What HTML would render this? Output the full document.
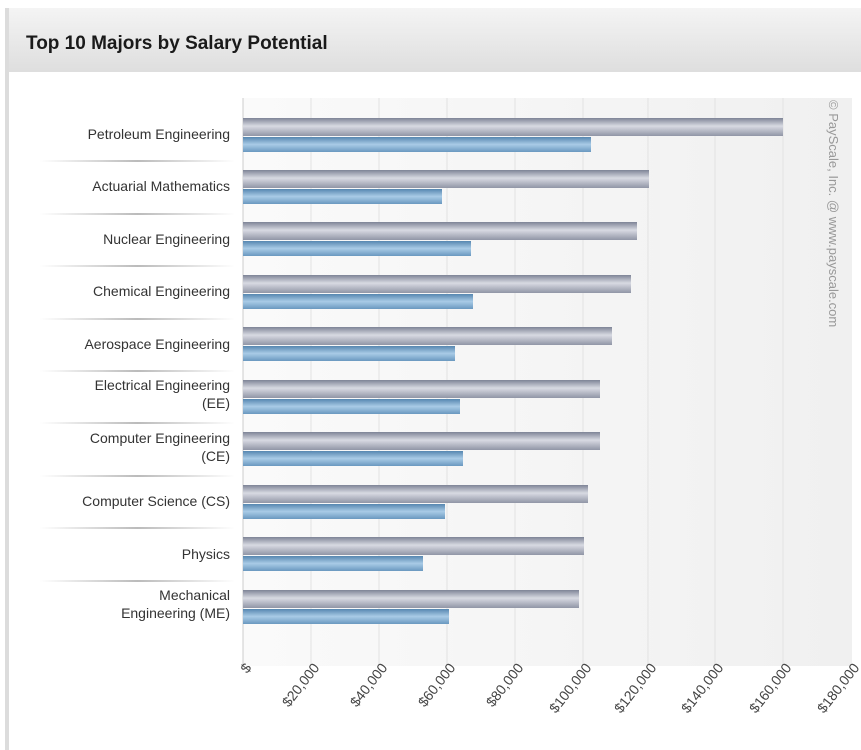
<!DOCTYPE html>
<html><head><meta charset="utf-8"><style>
html,body{margin:0;padding:0;background:#fff;width:861px;height:750px;overflow:hidden}
</style></head><body>
<svg width="861" height="750" xmlns="http://www.w3.org/2000/svg" font-family="Liberation Sans, sans-serif">
<defs>
<linearGradient id="hdr" x1="0" y1="0" x2="0" y2="1"><stop offset="0" stop-color="#f4f4f4"/><stop offset="1" stop-color="#dedede"/></linearGradient>
<linearGradient id="gb" x1="0" y1="0" x2="0" y2="1"><stop offset="0" stop-color="#7e8496"/><stop offset="0.45" stop-color="#d8dae2"/><stop offset="1" stop-color="#9095a6"/></linearGradient>
<linearGradient id="bb" x1="0" y1="0" x2="0" y2="1"><stop offset="0" stop-color="#5686b0"/><stop offset="0.5" stop-color="#a9cbe6"/><stop offset="1" stop-color="#6a98c0"/></linearGradient>
<linearGradient id="sep" x1="0" y1="0" x2="1" y2="0"><stop offset="0" stop-color="#fff"/><stop offset="0.5" stop-color="#bbb"/><stop offset="1" stop-color="#fff"/></linearGradient>
<linearGradient id="plot" x1="0" y1="0" x2="1" y2="0"><stop offset="0" stop-color="#fafafa"/><stop offset="1" stop-color="#f0f0f0"/></linearGradient>
</defs>
<rect x="5" y="8" width="856" height="64" fill="url(#hdr)"/>
<rect x="5" y="8" width="4" height="742" fill="#dcdcdc"/>
<text x="26" y="49" font-size="19" font-weight="bold" fill="#1a1a1a">Top 10 Majors by Salary Potential</text>
<rect x="243" y="98" width="609" height="568" fill="url(#plot)"/>
<g stroke="#e2e2e2" stroke-width="1">
<line x1="311" y1="98" x2="311" y2="666"/><line x1="379" y1="98" x2="379" y2="666"/><line x1="447" y1="98" x2="447" y2="666"/><line x1="515" y1="98" x2="515" y2="666"/><line x1="583" y1="98" x2="583" y2="666"/><line x1="648" y1="98" x2="648" y2="666"/><line x1="715" y1="98" x2="715" y2="666"/><line x1="783" y1="98" x2="783" y2="666"/>
</g>
<line x1="243" y1="98" x2="243" y2="666" stroke="#ccc"/>
<g>
<rect x="243" y="118" width="540" height="18" fill="url(#gb)"/><rect x="243" y="137" width="348" height="15" fill="url(#bb)"/>
<rect x="243" y="170" width="406" height="18" fill="url(#gb)"/><rect x="243" y="189" width="199" height="15" fill="url(#bb)"/>
<rect x="243" y="222" width="394" height="18" fill="url(#gb)"/><rect x="243" y="241" width="228" height="15" fill="url(#bb)"/>
<rect x="243" y="275" width="388" height="18" fill="url(#gb)"/><rect x="243" y="294" width="230" height="15" fill="url(#bb)"/>
<rect x="243" y="327" width="369" height="18" fill="url(#gb)"/><rect x="243" y="346" width="212" height="15" fill="url(#bb)"/>
<rect x="243" y="380" width="357" height="18" fill="url(#gb)"/><rect x="243" y="399" width="217" height="15" fill="url(#bb)"/>
<rect x="243" y="432" width="357" height="18" fill="url(#gb)"/><rect x="243" y="451" width="220" height="15" fill="url(#bb)"/>
<rect x="243" y="485" width="345" height="18" fill="url(#gb)"/><rect x="243" y="504" width="202" height="15" fill="url(#bb)"/>
<rect x="243" y="537" width="341" height="18" fill="url(#gb)"/><rect x="243" y="556" width="180" height="15" fill="url(#bb)"/>
<rect x="243" y="590" width="336" height="18" fill="url(#gb)"/><rect x="243" y="609" width="206" height="15" fill="url(#bb)"/>
</g>
<g fill="url(#sep)">
<rect x="40" y="160" width="195" height="2"/><rect x="40" y="213" width="195" height="2"/><rect x="40" y="265" width="195" height="2"/><rect x="40" y="318" width="195" height="2"/><rect x="40" y="370" width="195" height="2"/><rect x="40" y="422" width="195" height="2"/><rect x="40" y="475" width="195" height="2"/><rect x="40" y="527" width="195" height="2"/><rect x="40" y="580" width="195" height="2"/>
</g>
<g font-size="14" fill="#333" text-anchor="end">
<text x="230" y="139">Petroleum Engineering</text>
<text x="230" y="191">Actuarial Mathematics</text>
<text x="230" y="244">Nuclear Engineering</text>
<text x="230" y="296">Chemical Engineering</text>
<text x="230" y="349">Aerospace Engineering</text>
<text x="230" y="390">Electrical Engineering</text>
<text x="230" y="408">(EE)</text>
<text x="230" y="443">Computer Engineering</text>
<text x="230" y="461">(CE)</text>
<text x="230" y="506">Computer Science (CS)</text>
<text x="230" y="559">Physics</text>
<text x="230" y="600">Mechanical</text>
<text x="230" y="618">Engineering (ME)</text>
</g>
<text transform="translate(829,100) rotate(90)" font-size="13" fill="#999">© PayScale, Inc. @ www.payscale.com</text>
<g font-size="14" fill="#444" text-anchor="end">
<text transform="translate(252,668) rotate(-52)">$</text>
<text transform="translate(320,668) rotate(-52)">$20,000</text>
<text transform="translate(388,668) rotate(-52)">$40,000</text>
<text transform="translate(456,668) rotate(-52)">$60,000</text>
<text transform="translate(524,668) rotate(-52)">$80,000</text>
<text transform="translate(592,668) rotate(-52)">$100,000</text>
<text transform="translate(657,668) rotate(-52)">$120,000</text>
<text transform="translate(724,668) rotate(-52)">$140,000</text>
<text transform="translate(792,668) rotate(-52)">$160,000</text>
<text transform="translate(860,668) rotate(-52)">$180,000</text>
</g>
</svg>
</body></html>
